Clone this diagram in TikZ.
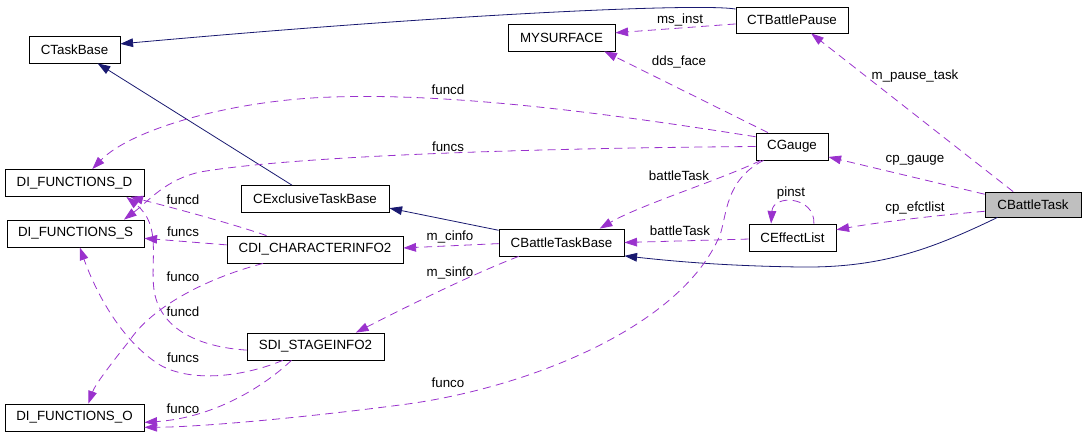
\documentclass[tikz,border=0pt]{standalone}
\usepackage{fontspec}
\setmainfont{Liberation Sans}
\usetikzlibrary{arrows.meta}
\definecolor{inhblue}{HTML}{191970}
\definecolor{relpurple}{HTML}{9A32CD}

\begin{document}
\begin{tikzpicture}[x=0.75pt,y=-0.75pt,
    cls/.style={draw,line width=0.6pt,inner sep=0pt,minimum height=20.25pt},
    inherit/.style={draw=inhblue,line width=0.6pt,-{Triangle[length=9.5pt,width=6.5pt]}},
    member/.style={draw=relpurple,line width=0.6pt,dash pattern=on 6pt off 4pt,
        -{Triangle[length=9.5pt,width=6.5pt,fill=relpurple]}},
    lbl/.style={inner sep=0pt}]
        \useasboundingbox (0,0) rectangle (1085,436);
        \draw (74.5,49.5) node[cls,minimum width=68.25pt] (TB) {CTaskBase};
        \draw (74.5,183) node[cls,minimum width=104.25pt] (FD) {DI\_FUNCTIONS\_D};
        \draw (75.5,233.5) node[cls,minimum width=102.75pt] (FS) {DI\_FUNCTIONS\_S};
        \draw (74.5,417.5) node[cls,minimum width=104.25pt] (FO) {DI\_FUNCTIONS\_O};
        \draw (315,199) node[cls,minimum width=111pt] (EX) {CExclusiveTaskBase};
        \draw (315,249.5) node[cls,minimum width=132pt] (CI) {CDI\_CHARACTERINFO2};
        \draw (315.5,346.5) node[cls,minimum width=102.75pt] (SI) {SDI\_STAGEINFO2};
        \draw (561.5,37.5) node[cls,minimum width=80.25pt] (MS) {MYSURFACE};
        \draw (561.5,242.5) node[cls,minimum width=93.75pt] (BTB) {CBattleTaskBase};
        \draw (792,20) node[cls,minimum width=84pt,minimum height=19.5pt] (BP) {CTBattlePause};
        \draw (792,146.5) node[cls,minimum width=54pt] (GA) {CGauge};
        \draw (792.5,237.5) node[cls,minimum width=65.25pt] (EL) {CEffectList};
        \draw (1033,204.5) node[cls,fill=black!25,minimum width=72pt,minimum height=18.75pt] (BT) {CBattleTask};

        % inheritance
        \draw[inherit] (BP.169) .. controls (700,3) and (450,14) .. (TB.7);
        \draw[inherit] (EX.149) -- (TB.-31);
        \draw[inherit] (BTB.169) -- (EX.-7);
        \draw[inherit] (BT.200) .. controls (930,250) and (880,268) .. (800,267)
            .. controls (730,266) and (680,262) .. (BTB.-12);

        % members
        \draw[member] (BP.184) -- (MS.5) node[lbl] at (680,20) {ms\_inst};
        \draw[member] (GA.150) -- (MS.-18) node[lbl] at (679,62) {dds\_face};
        \draw[member] (GA.165) .. controls (600,112) and (450,93) .. (333,97)
            .. controls (230,100) and (130,130) .. (FD.38)
            node[lbl] at (448,90) {funcd};
        \draw[member] (GA.west) .. controls (550,148) and (300,155) .. (200,172)
            .. controls (165,180) and (150,200) .. (FS.16)
            node[lbl] at (448,147) {funcs};
        \draw[member] (GA.204) .. controls (720,180) and (640,205) .. (BTB.20)
            node[lbl] at (679,176) {battleTask};
        \draw[member] (GA.206) .. controls (725,180) and (727,215) .. (720,235)
            .. controls (680,330) and (520,390) .. (400,405)
            .. controls (300,418) and (200,427) .. (FO.-8)
            node[lbl] at (448,383) {funco};
        \draw[member] (BT.147) -- (BP.-35) node[lbl] at (915,76) {m\_pause\_task};
        \draw[member] (BT.168) -- (GA.-16) node[lbl] at (915,160) {cp\_gauge};
        \draw[member] (BT.188) .. controls (940,215) and (880,222) .. (EL.10)
            node[lbl] at (915,208) {cp\_efctlist};
        \draw[member] (EL.33) .. controls (815,196) and (773,194) .. (EL.147)
            node[lbl] at (791,193) {pinst};
        \draw[member] (EL.182) -- (BTB.0) node[lbl] at (680,231) {battleTask};
        \draw[member] (BTB.181) -- (CI.1) node[lbl] at (450,237) {m\_cinfo};
        \draw[member] (BTB.198) .. controls (470,275) and (400,310) .. (SI.19)
            node[lbl] at (450,273) {m\_sinfo};
        \draw[member] (CI.164) .. controls (230,223) and (170,207) .. (FD.-14)
            node[lbl] at (183,200) {funcd};
        \draw[member] (CI.177) -- (FS.-4) node[lbl] at (183,232) {funcs};
        \draw[member] (CI.195) .. controls (200,280) and (150,310) .. (130,340)
            .. controls (110,365) and (95,385) .. (FO.45)
            node[lbl] at (183,277) {funco};
        \draw[member] (SI.183) .. controls (200,347) and (160,330) .. (154,290)
            .. controls (150,260) and (162,225) .. (FD.-15)
            node[lbl] at (183,312) {funcd};
        \draw[member] (SI.203) .. controls (240,378) and (190,382) .. (160,365)
            .. controls (120,340) and (95,290) .. (FS.-73)
            node[lbl] at (183,358) {funcs};
        \draw[member] (SI.210) .. controls (260,390) and (210,418) .. (FO.-4)
            node[lbl] at (183,409) {funco};
\end{tikzpicture}
\end{document}
